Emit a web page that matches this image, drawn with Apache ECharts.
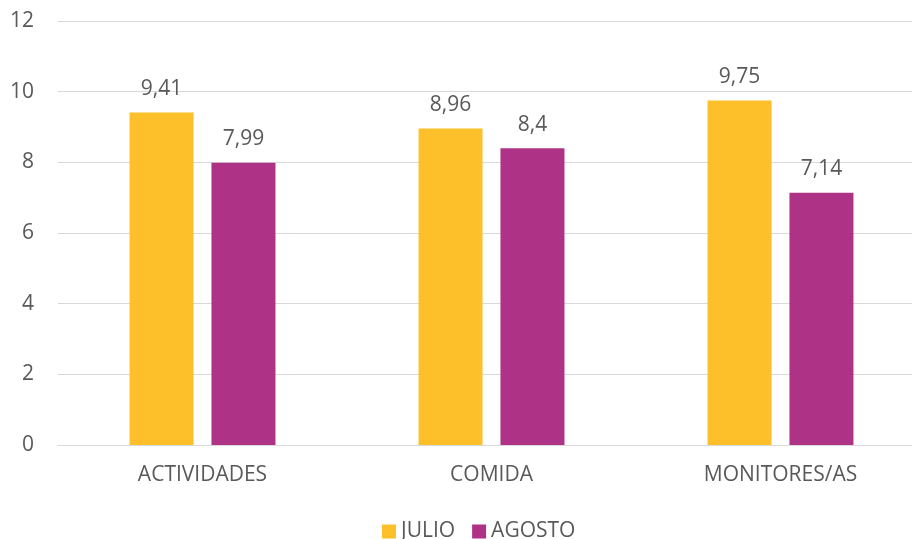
<!DOCTYPE html>
<html>
<head>
<meta charset="utf-8">
<script src="https://cdn.jsdelivr.net/npm/echarts@6/dist/echarts.min.js"></script>
<style>
  html, body { margin: 0; padding: 0; background: #fff; }
  #main { width: 912px; height: 539px; }
</style>
</head>
<body>
<div id="main"></div>
<script>
// data
var categories = ['ACTIVIDADES', 'COMIDA', 'MONITORES/AS'];
var julio = [9.41, 8.96, 9.75];
var agosto = [7.99, 8.4, 7.14];
var yTicks = [0, 2, 4, 6, 8, 10, 12];

var colors = ['#FDBF2A', '#AE3387'];
var textColor = '#595959';
var font = 'Open Sans';
var fs = 21;

var myChart = echarts.init(document.getElementById('main'));

// comma as decimal separator
function fmt(p) {
    return String(p.value).replace('.', ',');
}

myChart.setOption({
    color: colors,
    animation: false,
    grid: {
        left: 58,
        width: 867,
        top: 21,
        bottom: 94,
        outerBoundsMode: 'none'
    },
    legend: {
        data: ['JULIO', 'AGOSTO'],
        left: 377,
        top: 516,
        itemWidth: 14,
        itemHeight: 14,
        itemGap: 17,
        icon: 'rect',
        textStyle: { color: textColor, fontSize: fs, fontFamily: font }
    },
    xAxis: {
        type: 'category',
        data: categories,
        axisLine: { lineStyle: { color: '#D9D9D9', width: 1 } },
        axisTick: { show: false },
        axisLabel: { color: textColor, fontSize: fs, fontFamily: font, margin: 20 }
    },
    yAxis: {
        type: 'value',
        min: yTicks[0],
        max: yTicks[yTicks.length - 1],
        interval: 2,
        axisLine: { show: false },
        axisTick: { show: false },
        splitLine: { lineStyle: { color: '#D9D9D9', width: 1 } },
        axisLabel: { color: textColor, fontSize: fs, fontFamily: font, margin: 24 }
    },
    series: [
        {
            name: 'JULIO',
            type: 'bar',
            barWidth: 64,
            barGap: '28%',
            data: julio,
            label: {
                show: true, position: 'top', distance: 13,
                color: textColor, fontSize: fs, fontFamily: font, formatter: fmt
            }
        },
        {
            name: 'AGOSTO',
            type: 'bar',
            barWidth: 64,
            data: agosto,
            label: {
                show: true, position: 'top', distance: 13,
                color: textColor, fontSize: fs, fontFamily: font, formatter: fmt
            }
        }
    ]
});
</script>
</body>
</html>
